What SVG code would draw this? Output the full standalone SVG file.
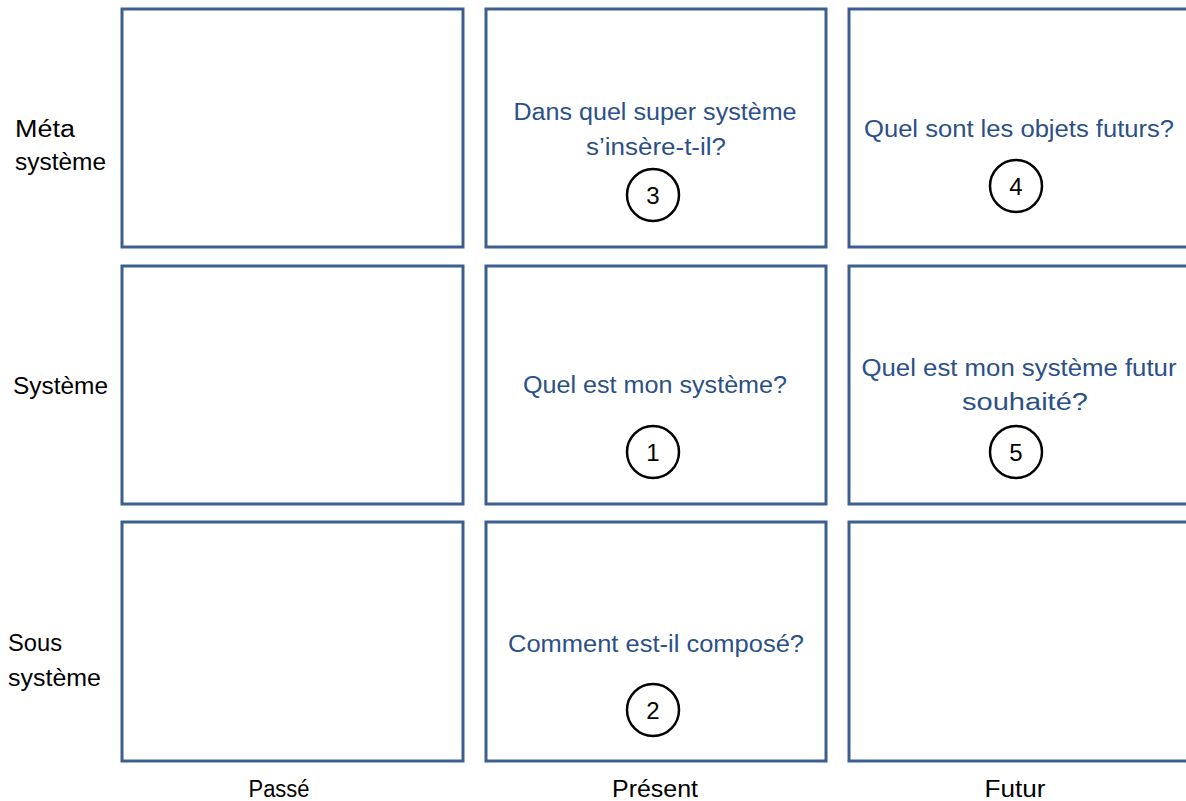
<svg xmlns="http://www.w3.org/2000/svg" width="1186" height="801" viewBox="0 0 1186 801">
<style>
.box{fill:#fff;stroke:#3d5f8f;stroke-width:3}
.q{font-family:"Liberation Sans",Arial,sans-serif;font-size:23.5px;fill:#2b5088;text-anchor:middle}
.lbl{font-family:"Liberation Sans",Arial,sans-serif;font-size:23.5px;fill:#000}
.c{fill:#fff;stroke:#000;stroke-width:2.5}
.n{font-family:"Liberation Sans",Arial,sans-serif;font-size:24px;fill:#000;text-anchor:middle}
</style>
<rect width="1186" height="801" fill="#fff"/>
<g id="labels">
<text class="lbl" x="15" y="137" textLength="60" lengthAdjust="spacingAndGlyphs">Méta</text>
<text class="lbl" x="15" y="170" textLength="91" lengthAdjust="spacingAndGlyphs">système</text>
<text class="lbl" x="13" y="394" textLength="95" lengthAdjust="spacingAndGlyphs">Système</text>
<text class="lbl" x="8" y="651" textLength="54" lengthAdjust="spacingAndGlyphs">Sous</text>
<text class="lbl" x="8" y="686" textLength="93" lengthAdjust="spacingAndGlyphs">système</text>
<text class="lbl" x="279" y="797" text-anchor="middle" textLength="61" lengthAdjust="spacingAndGlyphs">Passé</text>
<text class="lbl" x="655" y="797" text-anchor="middle" textLength="86" lengthAdjust="spacingAndGlyphs">Présent</text>
<text class="lbl" x="1015" y="797" text-anchor="middle" textLength="61" lengthAdjust="spacingAndGlyphs">Futur</text>
</g>
<g id="cell-meta-passe"><rect class="box" x="122" y="9" width="341" height="238"/></g>
<g id="cell-meta-present">
<rect class="box" x="486" y="9" width="340" height="238"/>
<text class="q" x="655" y="120" textLength="283" lengthAdjust="spacingAndGlyphs">Dans quel super système</text>
<text class="q" x="656" y="155" textLength="140" lengthAdjust="spacingAndGlyphs">s’insère-t-il?</text>
<circle class="c" cx="653" cy="195" r="26"/><text class="n" x="653" y="204">3</text>
</g>
<g id="cell-meta-futur">
<rect class="box" x="849" y="9" width="345" height="238"/>
<text class="q" x="1019" y="137" textLength="310" lengthAdjust="spacingAndGlyphs">Quel sont les objets futurs?</text>
<circle class="c" cx="1016" cy="186" r="26"/><text class="n" x="1016" y="195">4</text>
</g>
<g id="cell-sys-passe"><rect class="box" x="122" y="266" width="341" height="238"/></g>
<g id="cell-sys-present">
<rect class="box" x="486" y="266" width="340" height="238"/>
<text class="q" x="655" y="393" textLength="264" lengthAdjust="spacingAndGlyphs">Quel est mon système?</text>
<circle class="c" cx="653" cy="452" r="26"/><text class="n" x="653" y="461">1</text>
</g>
<g id="cell-sys-futur">
<rect class="box" x="849" y="266" width="345" height="238"/>
<text class="q" x="1019" y="376" textLength="315" lengthAdjust="spacingAndGlyphs">Quel est mon système futur</text>
<text class="q" x="1025" y="410" textLength="126" lengthAdjust="spacingAndGlyphs">souhaité?</text>
<circle class="c" cx="1016" cy="452" r="26"/><text class="n" x="1016" y="461">5</text>
</g>
<g id="cell-sous-passe"><rect class="box" x="122" y="522" width="341" height="239"/></g>
<g id="cell-sous-present">
<rect class="box" x="486" y="522" width="340" height="239"/>
<text class="q" x="656" y="652" textLength="296" lengthAdjust="spacingAndGlyphs">Comment est-il composé?</text>
<circle class="c" cx="653" cy="710" r="26"/><text class="n" x="653" y="719">2</text>
</g>
<g id="cell-sous-futur"><rect class="box" x="849" y="522" width="345" height="239"/></g>
<g id="connectors"></g>
</svg>
